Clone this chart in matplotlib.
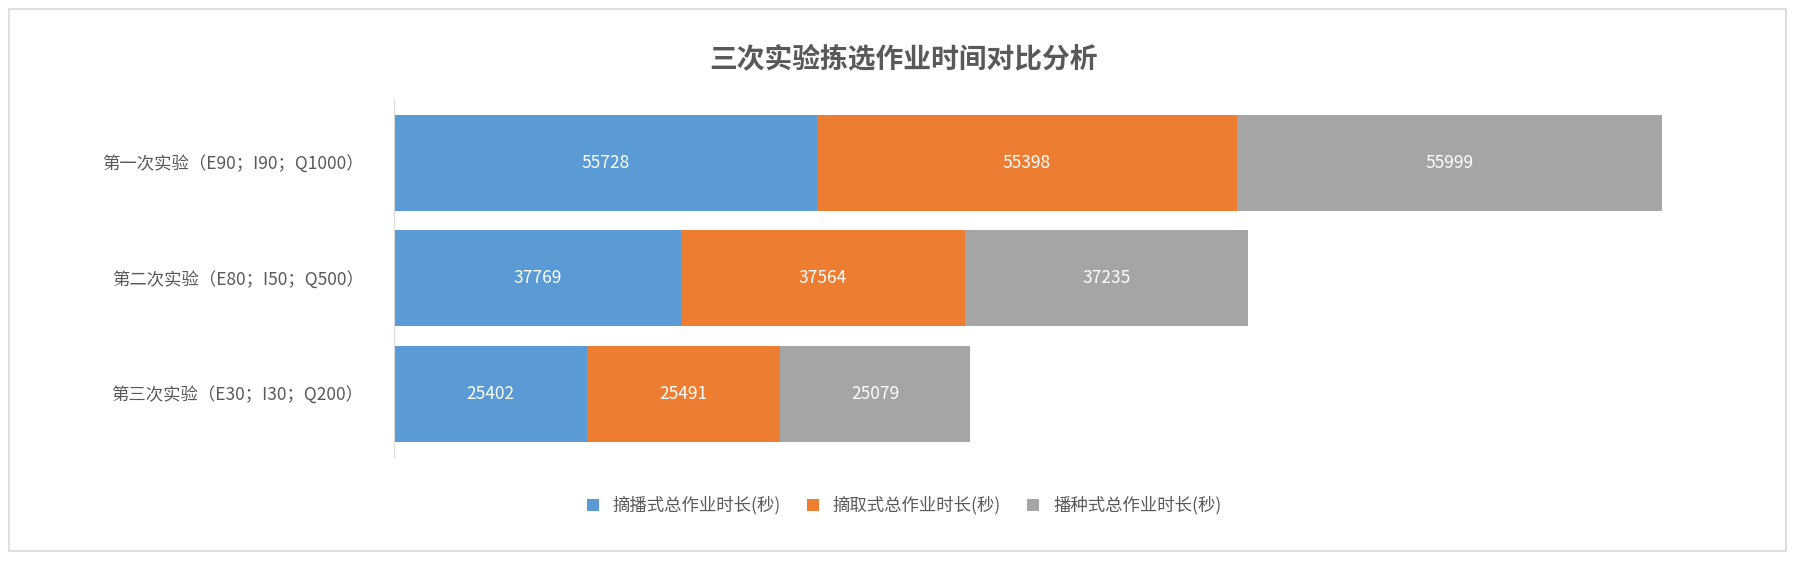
import matplotlib
matplotlib.use("Agg")
import matplotlib.pyplot as plt
from matplotlib.patches import Rectangle

categories = ["第一次实验（E90；I90；Q1000）", "第二次实验（E80；I50；Q500）", "第三次实验（E30；I30；Q200）"]
series_names = ["摘播式总作业时长(秒)", "摘取式总作业时长(秒)", "播种式总作业时长(秒)"]
zhaibo = [55728, 37769, 25402]
zhaiqu = [55398, 37564, 25491]
bozhong = [55999, 37235, 25079]
colors = ["#5b9bd5", "#ed7d31", "#a5a5a5"]

plt.rcParams["font.family"] = "Noto Sans CJK SC"
fig = plt.figure(figsize=(18.08, 5.68), dpi=100)
fig.patches.append(Rectangle((0.005, 0.03), 0.983, 0.955, transform=fig.transFigure,
                             fill=False, edgecolor="#d9d9d9", linewidth=1.2))
ax = fig.add_axes([0.218, 0.195, 0.755, 0.63])
ypos = list(range(len(categories)))[::-1]
left = [0] * len(categories)
for name, vals, c in zip(series_names, [zhaibo, zhaiqu, bozhong], colors):
    bars = ax.barh(ypos, vals, left=left, height=0.83, color=c, label=name)
    for b, v in zip(bars, vals):
        ax.text(b.get_x() + b.get_width() / 2, b.get_y() + b.get_height() / 2, str(v),
                ha="center", va="center", color="white", fontsize=12.5)
    left = [l + v for l, v in zip(left, vals)]
ax.set_xlim(0, 180000)
ax.set_ylim(-0.55, 2.55)
ax.set_yticks(ypos)
ax.set_yticklabels(categories, fontsize=12.5, color="#595959")
ax.set_xticks([])
for s in ["top", "right", "bottom"]:
    ax.spines[s].set_visible(False)
ax.spines["left"].set_color("#d9d9d9")
ax.tick_params(axis="y", length=0, pad=22)
fig.text(0.5, 0.895, "三次实验拣选作业时间对比分析", ha="center", va="center",
         fontsize=20, fontweight="bold", color="#595959")
fig.legend(loc="center", bbox_to_anchor=(0.5, 0.11), ncol=3, frameon=False,
           fontsize=12.5, handlelength=0.7, handleheight=0.7, columnspacing=1.5,
           labelcolor="#595959")
fig.savefig("out.png", dpi=100)
